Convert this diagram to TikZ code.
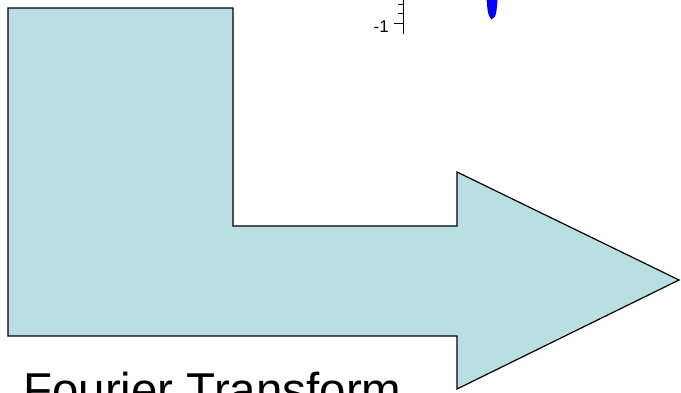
\documentclass[tikz,border=0pt]{standalone}
\usepackage{fontspec}
\setmainfont{Liberation Sans}
\definecolor{arrowfill}{RGB}{186,223,226}
\begin{document}
\begin{tikzpicture}[x=1pt,y=-1pt,
  bigarrow/.style={fill=arrowfill,draw=black,line width=1.2pt,line join=miter},
  axisline/.style={black,line width=1pt},
  curve/.style={blue,line width=5pt,line cap=round}]
\useasboundingbox (0,0) rectangle (681,393);
\begin{scope}
\clip (0,0) rectangle (681,393);
\draw[bigarrow] (8,8) -- (233,8) -- (233,226) -- (457,226) -- (457,172) -- (679,280) -- (457,389) -- (457,336) -- (8,336) -- cycle;
% axis fragment
\draw[axisline] (403,-2) -- (403,34);
\draw[axisline] (398,5) -- (403,5);
\draw[axisline] (398,14) -- (403,14);
\draw[axisline] (394,24) -- (403,24);
\node[anchor=east,inner sep=0pt,font=\fontsize{17}{17}\selectfont] (lbl) at (389,27) {-1};
% blue curve fragment
\draw[curve] (489,-3) .. controls (490,20) and (494,24) .. (495,-3);
\fill[blue] (488,-2) rectangle (496,12);
\node[anchor=base west,inner sep=0pt,font=\fontsize{47.5}{47.5}\selectfont] (title) at (23,406) {Fourier Transform};
\end{scope}
\end{tikzpicture}
\end{document}
